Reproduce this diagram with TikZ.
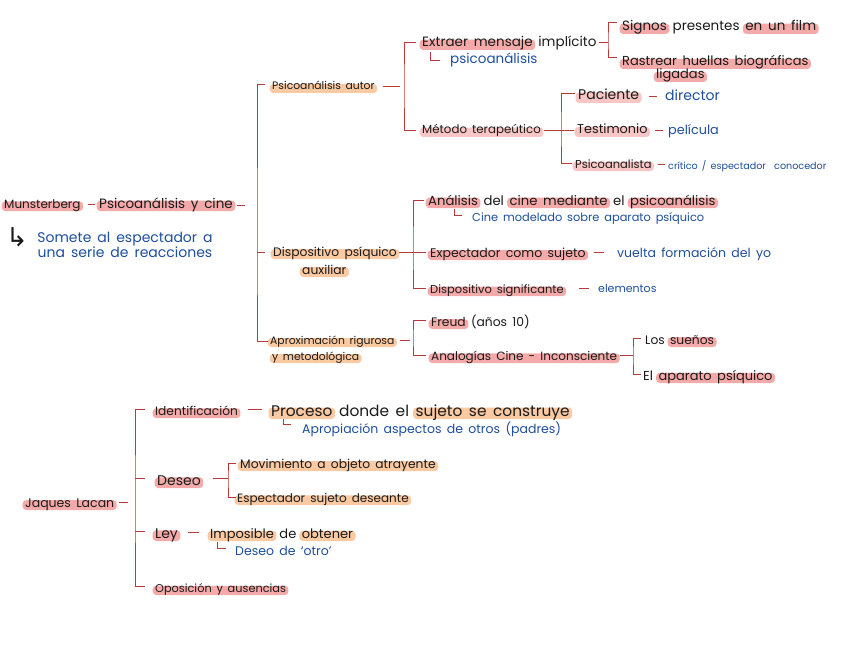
\documentclass[tikz,border=0pt]{standalone}
\usepackage{fontspec}
\setmainfont{Poppins}[WordSpace=1.6]
\newfontfamily\arrowfont{DejaVu Sans}
\usetikzlibrary{calc}
\definecolor{hlpink}{HTML}{F5AAAA}
\definecolor{hllight}{HTML}{F9C6C6}
\definecolor{hlorange}{HTML}{FBC9A2}
\definecolor{linered}{HTML}{B83A3A}
\definecolor{inkblue}{HTML}{1E4F9C}
\definecolor{ink}{HTML}{1A1A1A}
\newlength\hlw
\newcommand\HL[2]{\settowidth\hlw{#2}\tikz[baseline=0pt]{\fill[#1,rounded corners=3.5pt,overlay](-2.5pt,-3pt) rectangle (\hlw+2.5pt,0.55em);\node[anchor=base west,inner sep=0pt,outer sep=0pt] at (0pt,0pt){#2};}}
\newcommand\HLp[1]{\HL{hlpink}{#1}}
\newcommand\HLl[1]{\HL{hllight}{#1}}
\newcommand\HLo[1]{\HL{hlorange}{#1}}
\tikzset{
  txt/.style={anchor=base west, inner sep=0pt, text=ink},
  note/.style={txt, text=inkblue},
  fs/.style={font=\fontsize{#1}{#1}\selectfont},
  ln/.style={draw=linered, line width=0.9pt},
}
\begin{document}
\begin{tikzpicture}[x=1pt,y=-1pt]
\useasboundingbox[fill=white] (0,0) rectangle (848,655);

% ---------- Munsterberg ----------
\node[txt,fs=12] (mun) at (4,208) {\HLp{Munsterberg}};
\node[txt,fs=13.5] (psi) at (99,208) {\HLp{Psicoanálisis y cine}};
\draw[ln] ($(mun.base east)+(7,-4)$) -- ($(mun.base east -| psi.west)+(-4,-4)$);
\draw[ln] ($(psi.base east)+(4,-3)$) -- ++(8,0);
\node[txt,font=\arrowfont\fontsize{26}{26}\selectfont] (arr) at (6,246) {↳};
\node[note,fs=14,anchor=center,align=center] (som) at (125,245) {Somete al espectador a\\[-1pt]una serie de reacciones};

% ---------- level 1 ----------
\node[txt,fs=10.8] (pa) at (272,90) {\HLo{Psicoanálisis autor}};
\node[txt,fs=12.3] (dp) at (273,256) {\HLo{Dispositivo psíquico}};
\node[txt,fs=12.3] (dp2) at (302,274) {\HLo{auxiliar}};
\node[txt,fs=10.8] (ap) at (270,344) {\HLo{Aproximación rigurosa}};
\node[txt,fs=10.8] (ap2) at (272,360) {\HLo{y metodológica}};
\coordinate (B0) at (257,250);
\draw[ln] ($(pa.base west)+(-7,-6)$) -| (B0) |- ($(ap.base west)+(-2,-3)$);
\coordinate (tdp) at ($(dp.base west)+(-8,-4)$);
\draw[ln] (B0 |- tdp) -- (tdp);

% ---------- Psicoanálisis autor ----------
\node[txt,fs=13.5] (ext) at (422,47) {\HLp{Extraer mensaje} implícito};
\node[txt,fs=11.8] (met) at (422,134) {\HLl{Método terapeútico}};
\coordinate (B1) at (404,86);
\draw[ln] ($(pa.base east)+(8,-4)$) -- ++(17,0);
\draw[ln] ($(ext.base west)+(-6,-5)$) -| (B1) |- ($(met.base west)+(-6,-4)$);
\node[note,fs=13.5] (psa) at (450,64) {psicoanálisis};
\draw[ln] ($(psa.base west)+(-20,-12)$) |- ($(psa.base west)+(-10,-4)$);

\node[txt,fs=13.5] (sig) at (622,31) {\HLp{Signos} presentes \HLp{en un film}};
\node[txt,fs=13] (ras) at (622,66) {\HLp{Rastrear huellas biográficas}};
\node[txt,fs=13] (lig) at (656,79) {\HLp{ligadas}};
\coordinate (B2) at (608,42);
\draw[ln] ($(ext.base east)+(2,-5)$) -| (B2);
\draw[ln] ($(sig.base west)+(-5,-9)$) -| (B2) |- ($(ras.base west)+(-5,-9)$);

\node[txt,fs=14] (pac) at (578,100) {\HLl{Paciente}};
\node[txt,fs=12.8] (tes) at (577,134) {\HLl{Testimonio}};
\node[txt,fs=11.5] (psn) at (575,168) {\HLl{Psicoanalista}};
\coordinate (B3) at (561,130);
\draw[ln] ($(met.base east)+(3,-4)$) -- ($(tes.base west)+(-3,-4)$);
\draw[ln] ($(pac.base west)+(-3,-7)$) -| (B3) |- ($(psn.base west)+(-3,-5)$);
\node[note,fs=14] (dir) at (665,101) {director};
\node[note,fs=12.8] (pel) at (668,135) {película};
\node[note,fs=9.6] (cri) at (668,170) {crítico / espectador \ conocedor};
\draw[ln] ($(pac.base east)+(10,-4)$) -- ++(8,0);
\draw[ln] ($(tes.base east)+(7,-4)$) -- ++(8,0);
\draw[ln] ($(psn.base east)+(6,-4)$) -- ++(7,0);

% ---------- Dispositivo ----------
\node[txt,fs=13.2] (an) at (428,205) {\HLp{Análisis} del \HLp{cine mediante} el \HLp{psicoanálisis}};
\node[txt,fs=12.5] (ex) at (430,257) {\HLp{Expectador como sujeto}};
\node[txt,fs=11.5] (ds) at (430,293) {\HLp{Dispositivo significante}};
\coordinate (B4) at (413,252);
\draw[ln] ($(dp.base east)+(2,-4)$) -- ($(ex.base west)+(-4,-5)$);
\draw[ln] ($(an.base west)+(-4,-5)$) -| (B4) |- ($(ds.base west)+(-4,-5)$);
\node[note,fs=11.4] (cm) at (472,221) {Cine modelado sobre aparato psíquico};
\draw[ln] ($(cm.base west)+(-18,-12)$) |- ($(cm.base west)+(-10,-6)$);
\node[note,fs=12.5] (vu) at (617,257) {vuelta formación del yo};
\node[note,fs=11] (el) at (598,292) {elementos};
\draw[ln] ($(ex.base east)+(8,-5)$) -- ++(10,0);
\draw[ln] ($(ds.base east)+(15,-5)$) -- ++(10,0);

% ---------- Aproximación ----------
\node[txt,fs=12.3] (fr) at (431,326) {\HLp{Freud} (años 10)};
\node[txt,fs=12] (ana) at (431,360) {\HLp{Analogías Cine - Inconsciente}};
\coordinate (B5) at (413,338);
\draw[ln] ($(ap.base east)+(5,-4)$) -- ++(10,0);
\draw[ln] ($(fr.base west)+(-5,-6)$) -| (B5) |- ($(ana.base west)+(-5,-5)$);
\node[txt,fs=12.3] (sue) at (645,344) {Los \HLp{sueños}};
\node[txt,fs=13] (apa) at (643,380) {El \HLp{aparato psíquico}};
\coordinate (B6) at (633,355);
\draw[ln] ($(ana.base east)+(3,-5)$) -| (B6);
\draw[ln] ($(sue.base west)+(-4,-6)$) -| (B6) |- ($(apa.base west)+(-2,-6)$);

% ---------- Lacan ----------
\node[txt,fs=12.5] (lac) at (25,507) {\HLp{Jaques Lacan}};
\node[txt,fs=12.2] (id) at (155,415) {\HLp{Identificación}};
\node[txt,fs=14] (de) at (157,485) {\HLp{Deseo}};
\node[txt,fs=14] (ley) at (155,538) {\HLp{Ley}};
\node[txt,fs=11.3] (op) at (155,592) {\HLp{Oposición y ausencias}};
\coordinate (B7) at (135,500);
\draw[ln] ($(lac.base east)+(5,-5)$) -- ++(9,0);
\draw[ln] ($(id.base west)+(-10,-6)$) -| (B7) |- ($(op.base west)+(-10,-6)$);
\coordinate (tde) at ($(de.base west)+(-12,-7)$);
\draw[ln] (B7 |- tde) -- (tde);
\coordinate (tley) at ($(ley.base west)+(-10,-7)$);
\draw[ln] (B7 |- tley) -- (tley);

\node[txt,fs=15.4] (pro) at (271,416) {\HLo{Proceso} donde el \HLo{sujeto se construye}};
\draw[ln] ($(id.base east)+(10,-6)$) -- ++(14,0);
\node[note,fs=12.5] (apr) at (302,433) {Apropiación aspectos de otros (padres)};
\draw[ln] ($(apr.base west)+(-19,-14)$) |- ($(apr.base west)+(-11,-9)$);

\node[txt,fs=12.3] (mov) at (240,468) {\HLo{Movimiento a objeto atrayente}};
\node[txt,fs=12] (esp) at (237,502) {\HLo{Espectador sujeto deseante}};
\coordinate (B8) at (228,478);
\draw[ln] ($(de.base east)+(12,-7)$) -| (B8);
\draw[ln] ($(mov.base west)+(-4,-5)$) -| (B8) |- ($(esp.base west)+(-1,-5)$);

\node[txt,fs=13] (imp) at (210,538) {\HLo{Imposible} de \HLo{obtener}};
\draw[ln] ($(ley.base east)+(10,-6)$) -- ++(11,0);
\node[note,fs=12.5] (des) at (235,555) {Deseo de ‘otro’};
\draw[ln] ($(des.base west)+(-18,-13)$) |- ($(des.base west)+(-9,-7)$);
\end{tikzpicture}
\end{document}
